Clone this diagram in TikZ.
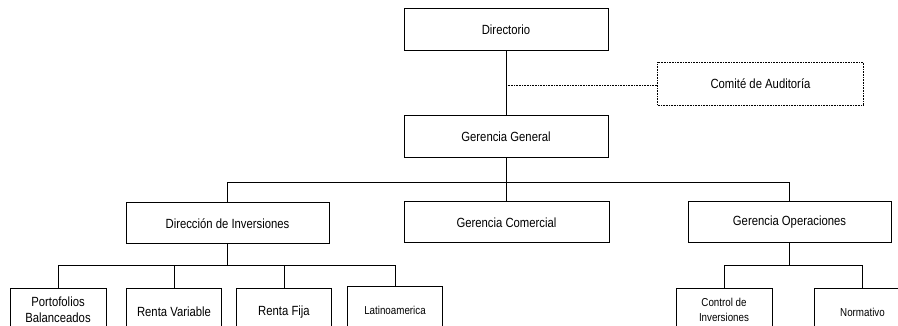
\documentclass[tikz,border=0pt]{standalone}
\usepackage{fontspec}
\setmainfont{Liberation Sans}[FakeStretch=0.85]
\begin{document}
\begin{tikzpicture}[x=1pt,y=-1pt,
  box/.style={draw,line width=1pt,inner sep=0pt,align=center,font=\fontsize{13.3}{16}\selectfont},
  bigbox/.style={box,minimum width=204pt,minimum height=42pt},
  leaf/.style={box,minimum width=96pt,minimum height=48pt},
  twoline/.style={minimum height=44pt},
  smallleaf/.style={leaf,font=\fontsize{11.5}{14.5}\selectfont},
  link/.style={line width=1pt},
  dotlink/.style={line width=0.6pt,densely dotted}]
\useasboundingbox (0,0) rectangle (898,326);
\clip (0,0) rectangle (898,326);
\fill[white] (0,0) rectangle (898,326);
% top levels
\node[bigbox] (dirc) at (506,30) {Directorio};
\node[bigbox,draw=none,minimum width=205pt] (comite) at (760.5,84) {Comité de Auditoría};
\draw[dotlink] (comite.north west) rectangle (comite.south east);
\node[bigbox] (gg) at (506,137) {Gerencia General};
\node[bigbox,minimum width=203pt,minimum height=41pt] (dinv) at (227.5,223.5) {Dirección de Inversiones};
\node[bigbox,minimum width=205pt,minimum height=41pt] (gcom) at (506.5,222.5) {Gerencia Comercial};
\node[bigbox,minimum width=203pt,minimum height=41pt] (gops) at (789.5,222.5) {Gerencia Operaciones};
% leaves
\node[leaf,twoline] (pb) at (58,310) {Portofolios\\Balanceados};
\node[leaf,minimum width=95pt] (rv) at (174,312) {Renta Variable};
\node[leaf,minimum width=95pt] (rf) at (284,312) {Renta Fija};
\node[smallleaf,minimum width=95pt] (lat) at (395,310) {Latinoamerica};
\node[smallleaf,twoline] (ci) at (724,310) {Control de\\Inversiones};
\node[smallleaf] (nor) at (862.5,312) {Normativo};
% buses
\coordinate (bus1) at (0,183);
\coordinate (bus2) at (0,266);
\coordinate (dj) at (506,85);
% connectors
\draw[link] (dirc.south) -- (gg.north);
\draw[dotlink] (dj) -- (dj -| comite.west);
\draw[link] (gg.south) -- (gg.south |- bus1);
\draw[link] (dinv.north) -- (dinv.north |- bus1) -- (gops.north |- bus1) -- (gops.north);
\draw[link] (gcom.north) -- (gcom.north |- bus1);
\draw[link] (dinv.south) -- (dinv.south |- bus2);
\draw[link] (pb.north) -- (pb.north |- bus2) -- (lat.north |- bus2) -- (lat.north);
\draw[link] (rv.north) -- (rv.north |- bus2);
\draw[link] (rf.north) -- (rf.north |- bus2);
\draw[link] (gops.south) -- (gops.south |- bus2);
\draw[link] (ci.north) -- (ci.north |- bus2) -- (nor.north |- bus2) -- (nor.north);
\end{tikzpicture}
\end{document}
